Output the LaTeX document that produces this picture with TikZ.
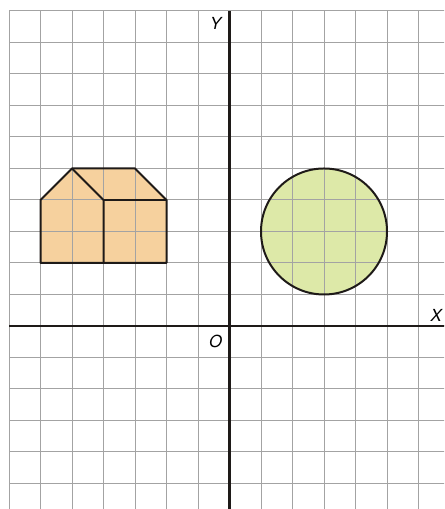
\documentclass[tikz,border=0pt]{standalone}
\usepackage{fontspec}
\setmainfont{TeX Gyre Heros}
\definecolor{gridgray}{HTML}{A3A3A3}
\definecolor{housefill}{HTML}{F6D19E}
\definecolor{circfill}{HTML}{DDE9A8}
\definecolor{outline}{HTML}{1E1A18}
\begin{document}
\begin{tikzpicture}[x=1cm,y=1cm,
  gridline/.style={draw=gridgray,line width=0.9pt},
  axisline/.style={draw=outline,line width=2.6pt},
  shapeline/.style={draw=outline,line width=1.8pt,line join=round},
  axislabel/.style={font=\fontsize{15}{18}\selectfont\itshape,inner sep=0pt}]
\useasboundingbox (-7.286,-5.81) rectangle (6.81,10.349);
\clip (-7.286,-5.81) rectangle (6.81,10.349);
% fills (under the grid)
\fill[housefill] (-6,2) -- (-6,4) -- (-5,5) -- (-3,5) -- (-2,4) -- (-2,2) -- cycle;
\fill[circfill] (3,3) circle (2);
% grid
\foreach \i in {-7,...,6} \draw[gridline] (\i,10) -- (\i,-5.9);
\foreach \j in {-5,...,10} \draw[gridline] (-7,\j) -- (6.9,\j);
% house outline
\draw[shapeline] (-6,2) -- (-6,4) -- (-5,5) -- (-3,5) -- (-2,4) -- (-2,2) -- cycle;
\draw[shapeline] (-5,5) -- (-4,4) -- (-4,2);
\draw[shapeline] (-4,4) -- (-2,4);
% circle outline
\draw[shapeline] (3,3) circle (2);
% axes
\draw[axisline] (-7,0) -- (6.9,0);
\draw[axisline] (0,10) -- (0,-5.9);
% labels
\node[axislabel] (ylab) at (-0.44,9.62) {Y};
\node[axislabel] (xlab) at (6.56,0.34) {X};
\node[axislabel] (olab) at (-0.44,-0.48) {O};
\end{tikzpicture}
\end{document}
